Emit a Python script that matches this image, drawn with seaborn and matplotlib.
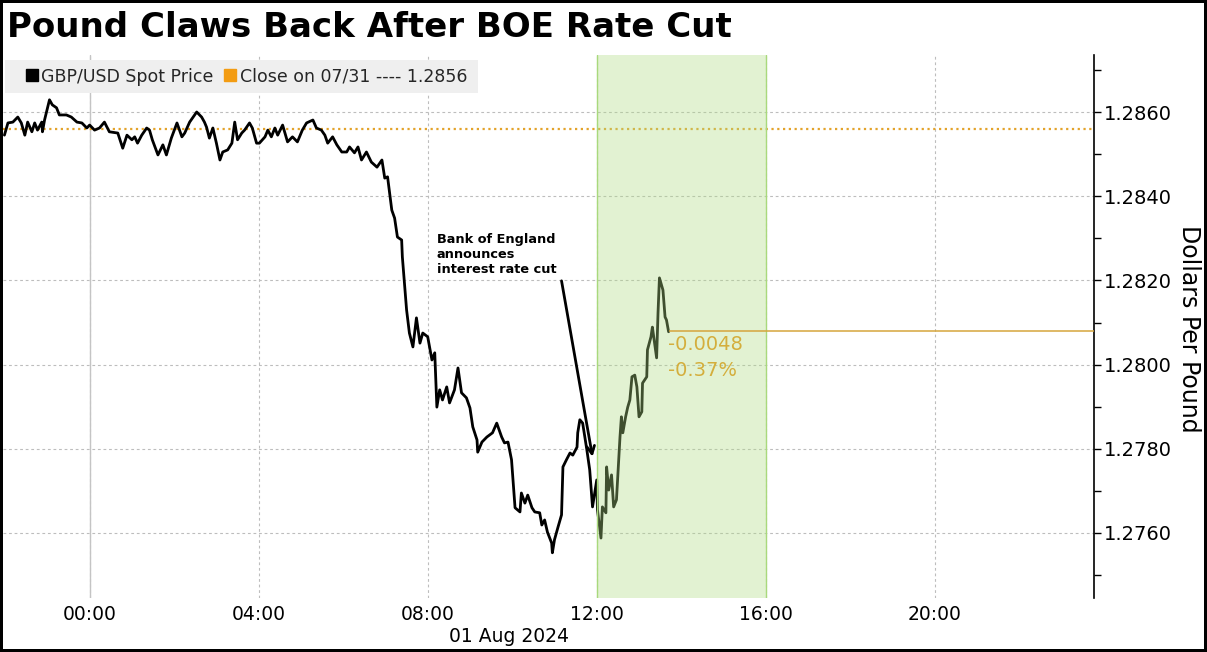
import numpy as np
import pandas as pd
import matplotlib
matplotlib.use("Agg")
import matplotlib.pyplot as plt
import matplotlib.dates as mdates
import matplotlib.transforms as mtransforms
from matplotlib.lines import Line2D
from matplotlib.patches import Rectangle
import seaborn as sns

# ---------------- data (minutes from 00:00 on 01 Aug 2024, GBP/USD) ----------------
minutes = [-121, -116, -109, -102, -97, -92, -88, -82, -78, -74, -68, -67, -64, -57, -53, -47,
           -43, -33, -26, -18, -11, -4, 0, 7, 14, 21, 28, 40, 47, 53, 60, 64, 68, 74, 81, 85,
           89, 97, 104, 109, 116, 124, 131, 135, 142, 152, 159, 163, 166, 170, 175, 180, 185,
           189, 196, 202, 206, 210, 216, 220, 227, 231, 237, 241, 249, 253, 258, 263, 267, 274,
           281, 288, 295, 302, 308, 317, 322, 329, 334, 338, 345, 351, 358, 365, 369, 376, 381,
           386, 393, 400, 408, 415, 419, 423, 429, 433, 437, 443, 444, 450, 454, 459, 464, 469,
           473, 480, 486, 490, 493, 497, 501, 507, 511, 518, 523, 528, 535, 540, 544, 550, 551,
           557, 564, 572, 578, 585, 589, 594, 599, 604, 611, 613, 618, 622, 628, 632, 639, 642,
           646, 650, 656, 657, 660, 665, 670, 672, 677, 682, 686, 692, 693, 696, 700, 706, 710,
           713, 714, 720, 721, 726, 728, 733, 734, 737, 741, 744, 748, 753, 755, 757, 761, 764,
           767, 770, 774, 777, 780, 784, 785, 791, 792, 797, 799, 805, 807, 809, 814, 817, 819,
           822]
prices = [1.28545, 1.28574, 1.28576, 1.28588, 1.28574, 1.28545, 1.28576, 1.28553, 1.28574,
          1.28557, 1.28576, 1.28553, 1.28581, 1.28629, 1.28617, 1.28610, 1.28593, 1.28593,
          1.28588, 1.28576, 1.28574, 1.28562, 1.28569, 1.28557, 1.28562, 1.28576, 1.28553,
          1.28550, 1.28514, 1.28545, 1.28534, 1.28541, 1.28526, 1.28545, 1.28562, 1.28557,
          1.28534, 1.28498, 1.28522, 1.28498, 1.28538, 1.28574, 1.28541, 1.28550, 1.28576,
          1.28600, 1.28588, 1.28576, 1.28564, 1.28538, 1.28562, 1.28526, 1.28486, 1.28505,
          1.28510, 1.28526, 1.28576, 1.28534, 1.28550, 1.28557, 1.28574, 1.28562, 1.28526,
          1.28526, 1.28541, 1.28557, 1.28541, 1.28562, 1.28545, 1.28569, 1.28529, 1.28541,
          1.28529, 1.28557, 1.28574, 1.28581, 1.28562, 1.28557, 1.28545, 1.28526, 1.28541,
          1.28522, 1.28505, 1.28505, 1.28517, 1.28503, 1.28517, 1.28486, 1.28505, 1.28481,
          1.28469, 1.28486, 1.28443, 1.28446, 1.28367, 1.28348, 1.28303, 1.28296, 1.28256,
          1.28130, 1.28075, 1.28042, 1.28111, 1.28051, 1.28075, 1.28066, 1.28011, 1.28028,
          1.27899, 1.27940, 1.27916, 1.27947, 1.27909, 1.27940, 1.27992, 1.27933, 1.27921,
          1.27897, 1.27852, 1.27821, 1.27792, 1.27816, 1.27828, 1.27838, 1.27861, 1.27828,
          1.27814, 1.27816, 1.27774, 1.27660, 1.27650, 1.27695, 1.27671, 1.27690, 1.27660,
          1.27650, 1.27648, 1.27619, 1.27631, 1.27602, 1.27576, 1.27553, 1.27584, 1.27614,
          1.27643, 1.27757, 1.27774, 1.27790, 1.27785, 1.27804, 1.27838, 1.27869, 1.27861,
          1.27797, 1.27750, 1.27683, 1.27662, 1.27726, 1.27655, 1.27588, 1.27662, 1.27648,
          1.27757, 1.27702, 1.27738, 1.27662, 1.27679, 1.27828, 1.27876, 1.27838, 1.27876,
          1.27899, 1.27916, 1.27971, 1.27975, 1.27947, 1.27876, 1.27888, 1.27956, 1.27971,
          1.28035, 1.28066, 1.28089, 1.28016, 1.28123, 1.28206, 1.28177, 1.28113, 1.28106,
          1.28078]

title = "Pound Claws Back After BOE Rate Cut"
series_label = "GBP/USD Spot Price"
close_label_date = "07/31"
close_prev = 1.2856
change_abs = -0.0048
change_pct = -0.37
y_ticks = [1.2760, 1.2780, 1.2800, 1.2820, 1.2840, 1.2860]
x_tick_hours = [0, 4, 8, 12, 16, 20]
highlight_hours = (12, 16)
annotation_text = "Bank of England\nannounces\ninterest rate cut"
y_label = "Dollars Per Pound"

# ---------------- build ----------------
base = pd.Timestamp("2024-08-01 00:00")
df = pd.DataFrame({"time": base + pd.to_timedelta(minutes, unit="min"), "price": prices})

sns.set_theme(style="white")
plt.rcParams["font.family"] = ["DejaVu Sans"]

W, H = 1207, 652
fig = plt.figure(figsize=(W / 100, H / 100), dpi=100)
fig.patch.set_facecolor("white")
fig.patch.set_edgecolor("black")
fig.patch.set_linewidth(3.2)

ax_l, ax_r, ax_t, ax_b = 3, 1094, 55, 598
ax = fig.add_axes([ax_l / W, 1 - ax_b / H, (ax_r - ax_l) / W, (ax_b - ax_t) / H])
ax.set_facecolor("white")

sns.lineplot(data=df, x="time", y="price", color="black", lw=2.0, ax=ax, zorder=3)

x_left = base + pd.Timedelta(minutes=-123)
x_right = base + pd.Timedelta(minutes=1426)
ax.set_xlim(x_left, x_right)
ax.set_ylim(1.274456, 1.287354)

# grid
ax.set_axisbelow(True)
ax.grid(axis="both", which="major", color="#bdbdbd", ls=(0, (2.5, 2.5)), lw=0.8)
ax.axvline(base, color="#c4c4c4", lw=1.0, zorder=1)

# highlight span drawn above the line (tints it green)
h0 = base + pd.Timedelta(hours=highlight_hours[0])
h1 = base + pd.Timedelta(hours=highlight_hours[1])
ax.axvspan(h0, h1, color="#b0dc84", alpha=0.36, lw=0, zorder=4)
for h in (h0, h1):
    ax.axvline(h, color="#a9d97c", lw=1.0, zorder=4)

# previous close dotted line
ax.axhline(close_prev, color="#e3a32b", ls=(0, (1, 1.6)), lw=1.6, zorder=2)

# change line and labels
last_t = df["time"].iloc[-1]
new_level = close_prev + change_abs
ax.hlines(new_level, last_t, x_right, color="#d6a53c", lw=1.1, zorder=5)
ax.text(last_t - pd.Timedelta(minutes=1), 1.28047, f"{change_abs:+.4f}".replace("+", ""),
        color="#d4ae3c", fontsize=14, va="center", ha="left", zorder=6)
ax.text(last_t - pd.Timedelta(minutes=1), 1.27985, f"{change_pct:.2f}%",
        color="#d4ae3c", fontsize=14, va="center", ha="left", zorder=6)

# annotation
ax.annotate("", xy=(base + pd.Timedelta(minutes=714), 1.27781),
            xytext=(base + pd.Timedelta(minutes=670), 1.28199),
            arrowprops=dict(arrowstyle="->", color="black", lw=2.0, shrinkA=0, shrinkB=0,
                            mutation_scale=14), zorder=6)
ax.text(base + pd.Timedelta(minutes=493), 1.28312, annotation_text, fontsize=9.3,
        fontweight="bold", color="black", va="top", ha="left", linespacing=1.2, zorder=6)

# axes styling
for s in ("top", "left", "bottom"):
    ax.spines[s].set_visible(False)
ax.spines["right"].set_visible(True)
ax.spines["right"].set_color("black")
ax.spines["right"].set_linewidth(1.2)

ax.yaxis.tick_right()
ax.yaxis.set_label_position("right")
ax.set_yticks(y_ticks)
ax.set_yticks(np.arange(1.2750, 1.28705, 0.0010), minor=True)
ax.yaxis.set_major_formatter(matplotlib.ticker.FormatStrFormatter("%.4f"))
ax.tick_params(axis="y", which="both", direction="out", length=5, width=1, color="black",
               labelsize=14, pad=2, right=True, left=False, labelcolor="black")

ax.xaxis.set_major_locator(mdates.HourLocator(byhour=x_tick_hours))
ax.xaxis.set_major_formatter(mdates.DateFormatter("%H:%M"))
ax.tick_params(axis="x", which="both", length=0, labelsize=13.5, pad=5, labelcolor="black")
ax.set_xlabel("")
ax.set_ylabel(y_label, rotation=270, fontsize=17, color="black", va="center")
ax.yaxis.set_label_coords((1189 - ax_l) / (ax_r - ax_l), 0.496)

# date label below ticks
trans = mtransforms.blended_transform_factory(ax.transData, fig.transFigure)
ax.text(base + pd.Timedelta(minutes=596), 1 - 637 / H, base.strftime("%d %b %Y"),
        transform=trans, fontsize=13.5, ha="center", va="center", color="black")

# title
fig.text(7 / W, 1 - 11 / H, title, fontsize=24.5, fontweight="bold", color="black",
         ha="left", va="top")

# legend box
ax.add_patch(Rectangle((5 / W, 1 - 93 / H), 473 / W, 33 / H, transform=fig.transFigure,
                       facecolor="#efefef", edgecolor="none", clip_on=False, zorder=7))
handles = [Line2D([], [], marker="s", ls="none", color="black", markersize=8.6),
           Line2D([], [], marker="s", ls="none", color="#f39c12", markersize=8.6)]
labels = [series_label, f"Close on {close_label_date} ---- {close_prev:.4f}"]
leg = ax.legend(handles, labels, ncol=2, loc="center left", frameon=False,
                bbox_to_anchor=(25 / W, 1 - 76.5 / H), bbox_transform=fig.transFigure,
                fontsize=12.5, handlelength=0.8, handletextpad=0.15, columnspacing=0.55,
                borderpad=0, borderaxespad=0)
leg.set_zorder(8)

fig.savefig("out.png", dpi=100, facecolor="white", edgecolor=fig.patch.get_edgecolor())
